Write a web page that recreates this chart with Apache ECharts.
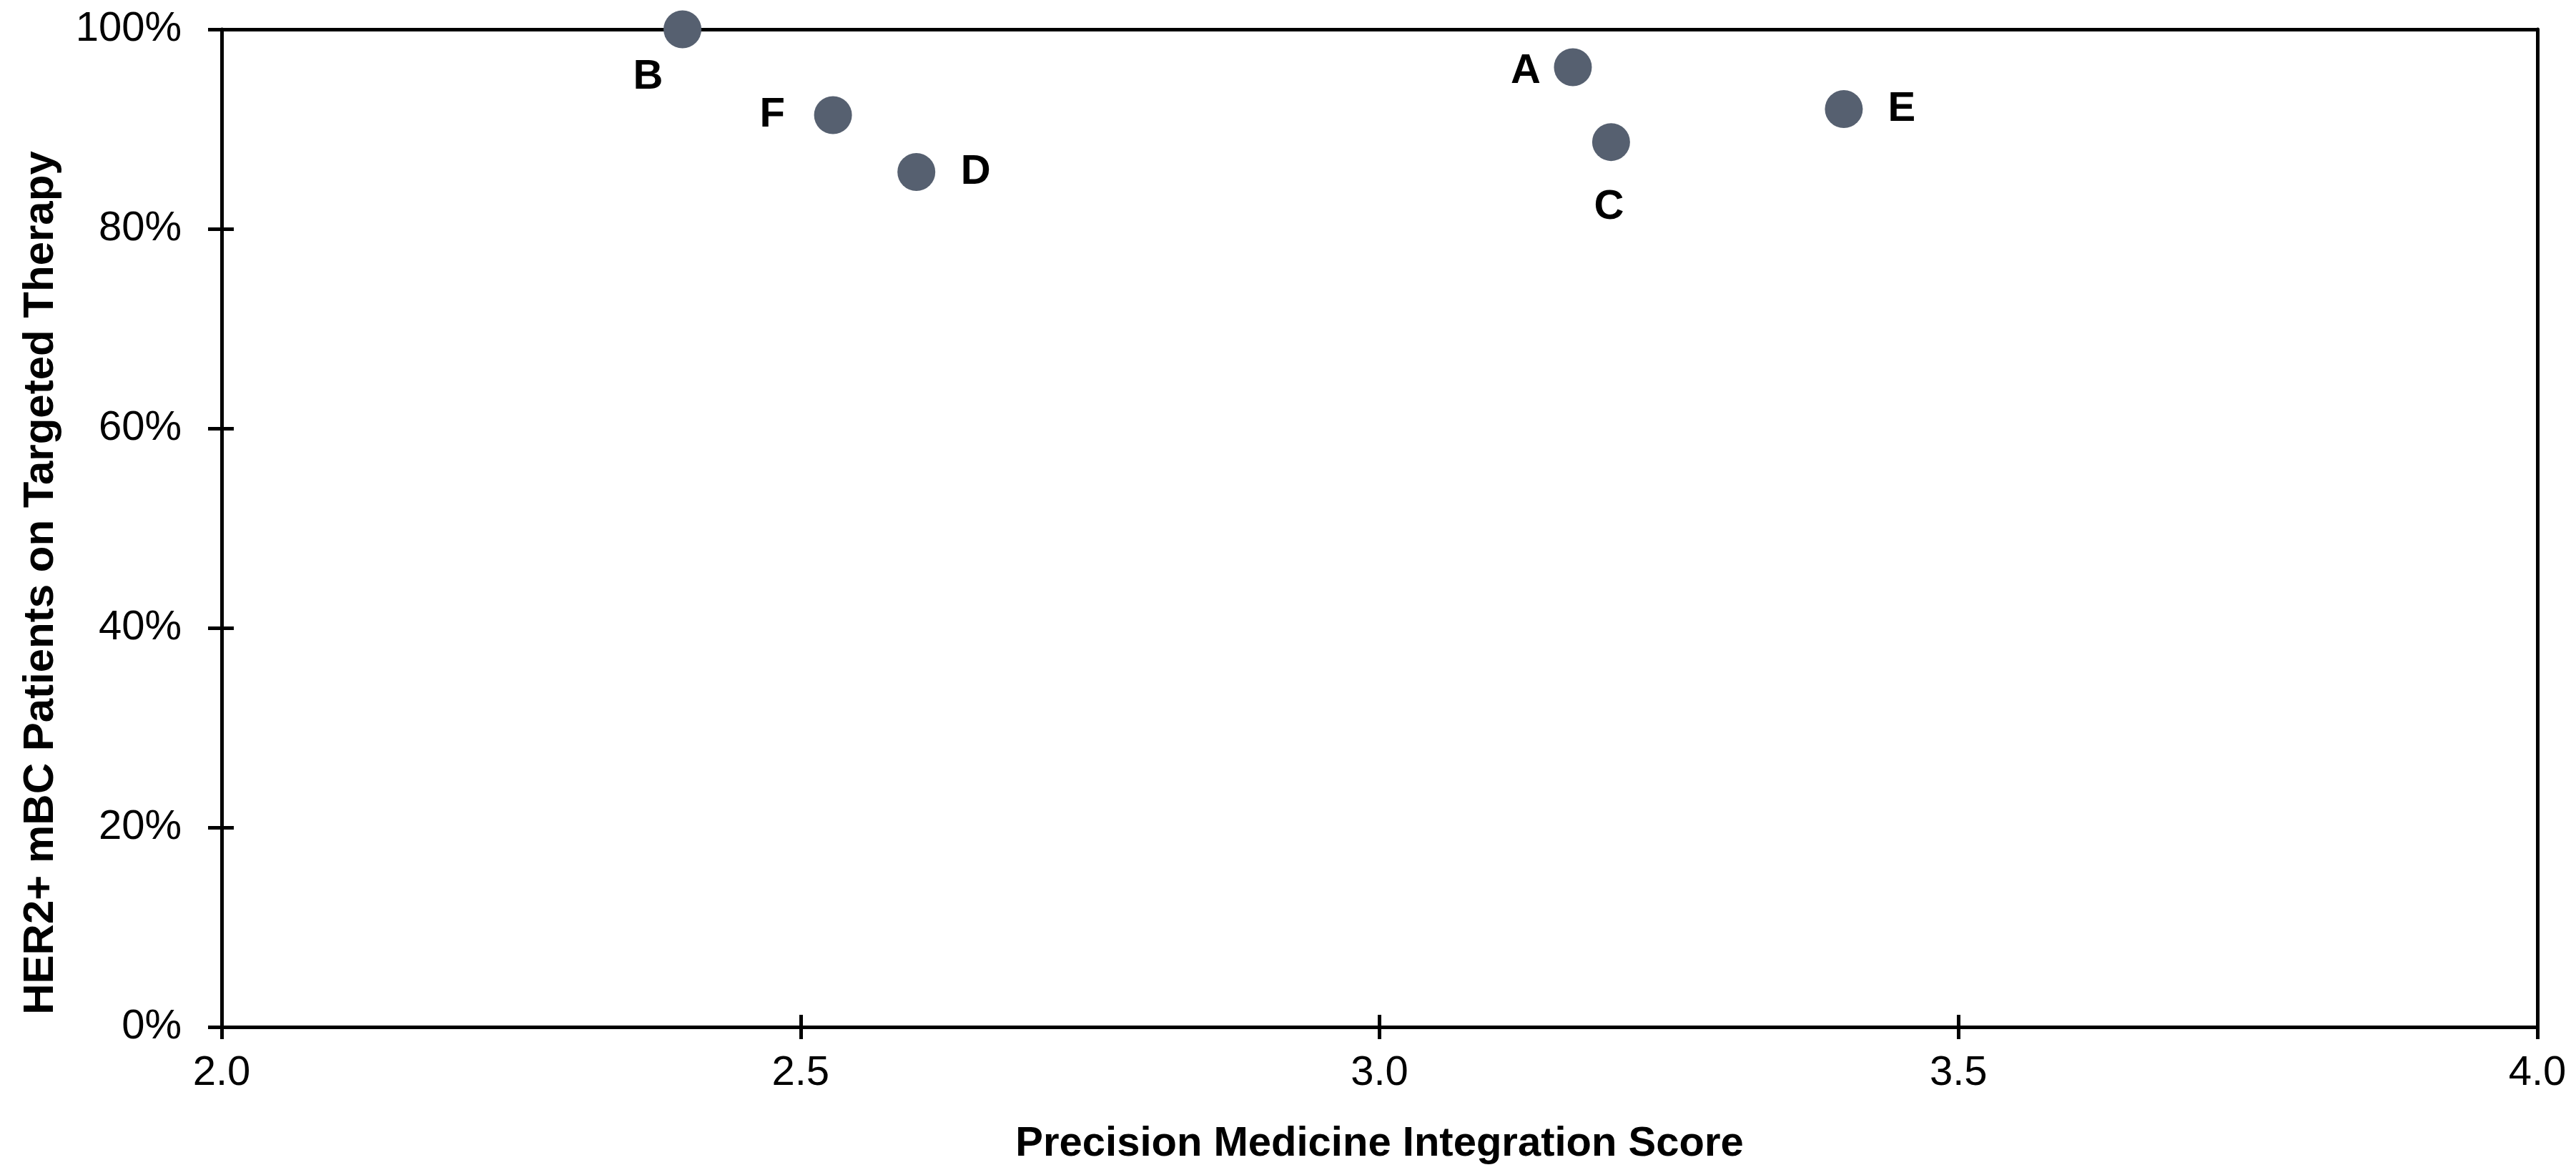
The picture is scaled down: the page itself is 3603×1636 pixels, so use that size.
<!DOCTYPE html>
<html>
<head>
<meta charset="utf-8">
<script src="https://cdn.jsdelivr.net/npm/echarts@6/dist/echarts.min.js"></script>
<style>
  html, body { margin: 0; padding: 0; background: #ffffff; }
  #chart { width: 3603px; height: 1636px; }
</style>
</head>
<body>
<div id="chart"></div>
<script>
// ---- data ----
const pointNames = ['A', 'B', 'C', 'D', 'E', 'F'];
const integrationScore = [3.167, 2.398, 3.200, 2.600, 3.401, 2.528];
const pctOnTargetedTherapy = [0.962, 1.000, 0.887, 0.857, 0.920, 0.914];
const xTicks = [2.0, 2.5, 3.0, 3.5, 4.0];
const yTicks = [0, 0.2, 0.4, 0.6, 0.8, 1.0];
const xTitle = 'Precision Medicine Integration Score';
const yTitle = 'HER2+ mBC Patients on Targeted Therapy';

// ---- label placement (style, not data) ----
const labelOffset = {
  A: [-66, 6],
  B: [-48, 67],
  C: [-3, 91],
  D: [83, 1],
  E: [81, 0],
  F: [-85, 0]
};

const FONT = '"Liberation Sans", Arial, Helvetica, sans-serif';
const INK = '#000000';
const DOT = '#566070';
const LINE_W = 5;

const seriesData = pointNames.map((n, i) => ({
  name: n,
  value: [integrationScore[i], pctOnTargetedTherapy[i]],
  label: { offset: labelOffset[n] }
}));

const chart = echarts.init(document.getElementById('chart'), null, { renderer: 'canvas' });

const xMin = xTicks[0], xMax = xTicks[xTicks.length - 1];
const yMin = yTicks[0], yMax = yTicks[yTicks.length - 1];

chart.setOption({
  animation: false,
  backgroundColor: '#ffffff',
  grid: {
    left: 310, right: 54, top: 41, bottom: 200,
    containLabel: false,
    outerBoundsMode: 'none'
  },
  xAxis: [
    {
      type: 'value', position: 'bottom', min: xMin, max: xMax, interval: 0.5,
      axisLine: { show: true, onZero: false, lineStyle: { color: INK, width: LINE_W } },
      axisTick: { show: true, inside: false, length: 17, lineStyle: { color: INK, width: LINE_W } },
      axisLabel: {
        show: true, margin: 36, color: INK, fontFamily: FONT, fontSize: 58,
        formatter: v => v.toFixed(1)
      },
      splitLine: { show: false },
      name: xTitle, nameLocation: 'middle', nameGap: 135,
      nameTextStyle: { color: INK, fontFamily: FONT, fontSize: 58, fontWeight: 'bold' }
    },
    {
      type: 'value', position: 'bottom', min: xMin, max: xMax, interval: 0.5,
      axisLine: { show: false },
      axisTick: { show: true, inside: true, length: 17, lineStyle: { color: INK, width: LINE_W } },
      axisLabel: { show: false },
      splitLine: { show: false }
    },
    {
      type: 'value', position: 'top', min: xMin, max: xMax, interval: 0.5,
      axisLine: { show: true, onZero: false, lineStyle: { color: INK, width: LINE_W } },
      axisTick: { show: false },
      axisLabel: { show: false },
      splitLine: { show: false }
    }
  ],
  yAxis: [
    {
      type: 'value', position: 'left', min: yMin, max: yMax, interval: 0.2,
      axisLine: { show: true, onZero: false, lineStyle: { color: INK, width: LINE_W } },
      axisTick: { show: true, inside: false, length: 19, lineStyle: { color: INK, width: LINE_W } },
      axisLabel: {
        show: true, margin: 56, color: INK, fontFamily: FONT, fontSize: 58,
        formatter: v => Math.round(v * 100) + '%'
      },
      splitLine: { show: false }
    },
    {
      type: 'value', position: 'left', min: yMin, max: yMax, interval: 0.2,
      axisLine: { show: false },
      axisTick: { show: true, inside: true, length: 17, lineStyle: { color: INK, width: LINE_W } },
      axisLabel: { show: false },
      splitLine: { show: false }
    },
    {
      type: 'value', position: 'right', min: yMin, max: yMax, interval: 0.2,
      axisLine: { show: true, onZero: false, lineStyle: { color: INK, width: LINE_W } },
      axisTick: { show: false },
      axisLabel: { show: false },
      splitLine: { show: false }
    }
  ],
  graphic: [
    {
      type: 'text',
      x: 57, y: 815,
      rotation: Math.PI / 2,
      style: {
        text: yTitle,
        fill: INK,
        font: 'bold 60px ' + FONT,
        textAlign: 'center',
        textVerticalAlign: 'middle'
      }
    }
  ],
  series: [
    {
      type: 'scatter',
      xAxisIndex: 0, yAxisIndex: 0,
      symbol: 'circle',
      symbolSize: 53,
      itemStyle: { color: DOT, opacity: 1 },
      label: {
        show: true, position: 'inside',
        formatter: p => p.name,
        color: INK, fontFamily: FONT, fontSize: 58, fontWeight: 'bold'
      },
      emphasis: { disabled: true },
      clip: false,
      z: 10,
      data: seriesData
    }
  ]
});
</script>
</body>
</html>
